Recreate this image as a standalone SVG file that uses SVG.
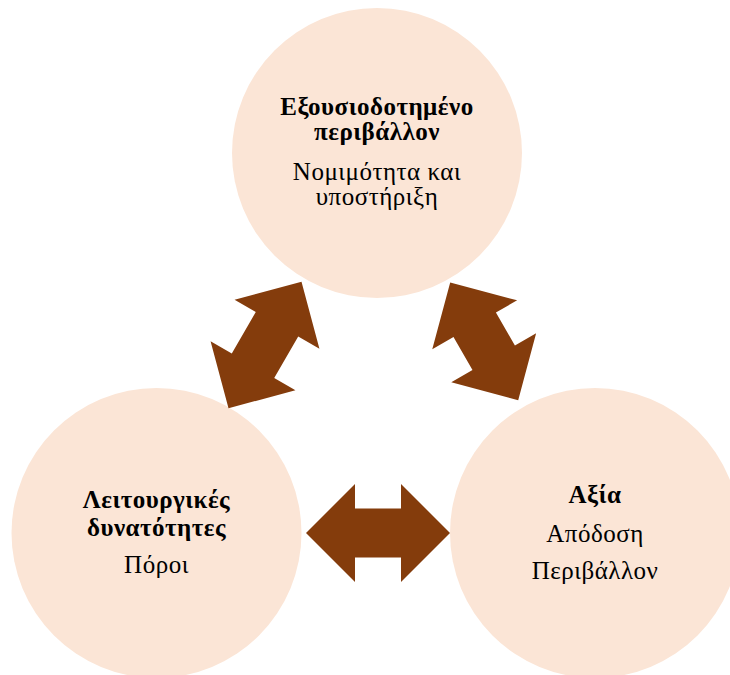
<svg xmlns="http://www.w3.org/2000/svg" width="730" height="675" viewBox="0 0 730 675">
  <style>
    .bubble { fill: #FBE5D6; }
    .arrow { fill: #843C0C; }
    .label { font-family: 'Liberation Serif', 'DejaVu Serif', serif; font-size: 25px; letter-spacing: 0.5px; fill: #000000; text-anchor: middle; }
    .title { font-weight: bold; }
  </style>
  <rect width="730" height="675" fill="#ffffff"/>

  <g id="node-authorised-environment">
    <circle class="bubble" cx="377" cy="153" r="145"/>
    <text class="label title" x="377" y="115">Εξουσιοδοτημένο</text>
    <text class="label title" x="377" y="140">περιβάλλον</text>
    <text class="label" x="377" y="180">Νομιμότητα και</text>
    <text class="label" x="377" y="205">υποστήριξη</text>
  </g>

  <g id="node-operational-capabilities">
    <circle class="bubble" cx="156.5" cy="533" r="145"/>
    <text class="label title" x="156.5" y="508">Λειτουργικές</text>
    <text class="label title" x="156.5" y="536">δυνατότητες</text>
    <text class="label" x="156.5" y="573">Πόροι</text>
  </g>

  <g id="node-value">
    <circle class="bubble" cx="595" cy="533" r="145"/>
    <text class="label title" x="595" y="503">Αξία</text>
    <text class="label" x="595" y="542">Απόδοση</text>
    <text class="label" x="595" y="579">Περιβάλλον</text>
  </g>

  <g id="connectors">
    <!-- double-headed block arrows between the bubbles -->
    <path class="arrow" transform="translate(378 533)" d="M-72 0 L-23 -49 L-23 -24.5 L23 -24.5 L23 -49 L72 0 L23 49 L23 24.5 L-23 24.5 L-23 49 Z"/>
    <path class="arrow" transform="translate(265 345) rotate(-60)" d="M-73 0 L-24 -49 L-24 -24.5 L24 -24.5 L24 -49 L73 0 L24 49 L24 24.5 L-24 24.5 L-24 49 Z"/>
    <path class="arrow" transform="translate(484.2 341.3) rotate(60)" d="M-68 0 L-19 -49 L-19 -24.5 L19 -24.5 L19 -49 L68 0 L19 49 L19 24.5 L-19 24.5 L-19 49 Z"/>
  </g>
</svg>
